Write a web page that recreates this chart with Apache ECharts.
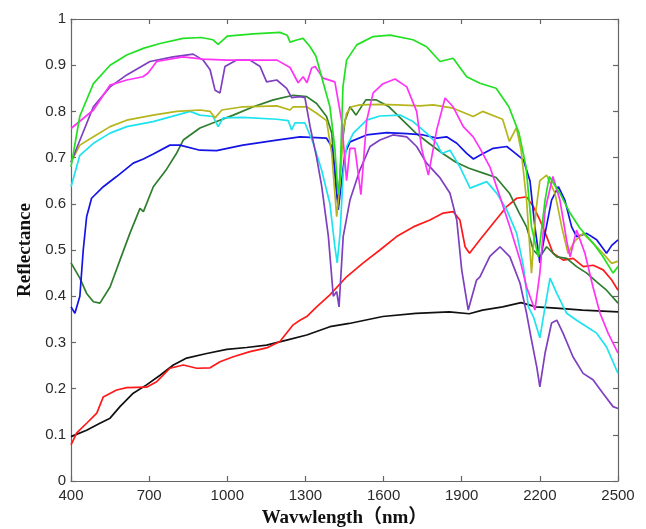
<!DOCTYPE html>
<html>
<head>
<meta charset="utf-8">
<script src="https://cdn.jsdelivr.net/npm/echarts@6/dist/echarts.min.js"></script>
<style>
  html, body { margin: 0; padding: 0; background: #fff; }
  #chart { width: 646px; height: 529px; }
</style>
</head>
<body>
<div id="chart"></div>
<script>
// Reflectance spectra, [wavelength nm, reflectance]
const green = [
  [400, 0.68], [434, 0.79], [486, 0.86], [550, 0.90], [614, 0.922], [680, 0.937], [742, 0.947],
  [830, 0.958], [900, 0.96], [945, 0.955], [965, 0.945], [1000, 0.963], [1100, 0.968], [1202, 0.971],
  [1230, 0.965], [1241, 0.95], [1270, 0.955], [1291, 0.958], [1318, 0.94], [1340, 0.92], [1362, 0.875],
  [1394, 0.81], [1413, 0.72], [1425, 0.62], [1433, 0.66], [1444, 0.853], [1458, 0.911], [1497, 0.944],
  [1560, 0.962], [1625, 0.965], [1713, 0.955], [1765, 0.94], [1817, 0.908], [1867, 0.915], [1919, 0.875],
  [1970, 0.861], [2032, 0.85], [2081, 0.81], [2120, 0.753], [2147, 0.68], [2168, 0.55], [2194, 0.485],
  [2220, 0.608], [2236, 0.659], [2277, 0.623], [2316, 0.58], [2354, 0.547], [2404, 0.515], [2442, 0.486],
  [2481, 0.45], [2500, 0.464]
];
const magenta = [
  [400, 0.763], [486, 0.803], [550, 0.857], [614, 0.868], [676, 0.875], [696, 0.883], [729, 0.908],
  [830, 0.918], [907, 0.913], [1000, 0.911], [1191, 0.911], [1241, 0.895], [1272, 0.862], [1291, 0.875],
  [1306, 0.862], [1324, 0.894], [1337, 0.897], [1368, 0.872], [1413, 0.864], [1439, 0.78], [1458, 0.65],
  [1471, 0.72], [1490, 0.72], [1513, 0.62], [1535, 0.78], [1560, 0.84], [1598, 0.86], [1644, 0.87],
  [1689, 0.853], [1727, 0.80], [1746, 0.72], [1772, 0.662], [1804, 0.76], [1836, 0.829], [1867, 0.81],
  [1906, 0.767], [1944, 0.745], [1970, 0.72], [2008, 0.68], [2047, 0.615], [2085, 0.55], [2124, 0.478],
  [2149, 0.42], [2181, 0.37], [2200, 0.45], [2220, 0.587], [2250, 0.659], [2277, 0.608], [2303, 0.52],
  [2316, 0.485], [2341, 0.543], [2373, 0.493], [2404, 0.42], [2431, 0.363], [2462, 0.32], [2500, 0.277]
];
const purple = [
  [400, 0.69], [486, 0.81], [550, 0.853], [614, 0.879], [703, 0.908], [792, 0.918], [869, 0.924],
  [907, 0.911], [934, 0.89], [953, 0.846], [972, 0.84], [991, 0.897], [1036, 0.911], [1087, 0.911],
  [1126, 0.897], [1151, 0.864], [1190, 0.868], [1228, 0.85], [1247, 0.83], [1279, 0.832], [1298, 0.83],
  [1318, 0.767], [1343, 0.70], [1362, 0.64], [1388, 0.53], [1407, 0.40], [1420, 0.41], [1429, 0.377],
  [1445, 0.529], [1471, 0.608], [1509, 0.673], [1548, 0.724], [1586, 0.738], [1636, 0.749], [1689, 0.745],
  [1727, 0.724], [1765, 0.688], [1817, 0.656], [1855, 0.623], [1881, 0.565], [1900, 0.457], [1925, 0.37],
  [1957, 0.435], [1970, 0.442], [2008, 0.486], [2047, 0.507], [2085, 0.485], [2124, 0.428], [2149, 0.363],
  [2168, 0.305], [2188, 0.247], [2200, 0.204], [2220, 0.277], [2245, 0.342], [2265, 0.348], [2289, 0.32],
  [2327, 0.269], [2366, 0.233], [2404, 0.219], [2442, 0.19], [2481, 0.161], [2500, 0.157]
];
const olive = [
  [400, 0.69], [434, 0.727], [486, 0.745], [550, 0.767], [614, 0.781], [715, 0.792], [806, 0.80],
  [895, 0.803], [934, 0.80], [953, 0.786], [979, 0.803], [1060, 0.81], [1190, 0.812], [1241, 0.803],
  [1253, 0.81], [1305, 0.81], [1343, 0.796], [1381, 0.78], [1401, 0.709], [1420, 0.572], [1433, 0.645],
  [1445, 0.76], [1458, 0.796], [1478, 0.81], [1509, 0.814], [1586, 0.815], [1650, 0.814], [1740, 0.812],
  [1790, 0.814], [1867, 0.807], [1944, 0.789], [1980, 0.80], [2057, 0.783], [2083, 0.735], [2110, 0.765],
  [2128, 0.716], [2149, 0.608], [2168, 0.45], [2185, 0.586], [2200, 0.65], [2226, 0.662], [2258, 0.623],
  [2284, 0.55], [2308, 0.493], [2335, 0.52], [2366, 0.536], [2404, 0.515], [2442, 0.493], [2476, 0.471],
  [2500, 0.476]
];
const cyan = [
  [400, 0.637], [434, 0.705], [486, 0.731], [550, 0.753], [614, 0.767], [715, 0.778], [806, 0.792],
  [857, 0.80], [895, 0.792], [945, 0.789], [965, 0.767], [984, 0.786], [1060, 0.787], [1190, 0.783],
  [1234, 0.78], [1247, 0.76], [1260, 0.775], [1298, 0.775], [1330, 0.731], [1362, 0.673], [1394, 0.60],
  [1413, 0.507], [1422, 0.472], [1433, 0.536], [1445, 0.666], [1458, 0.724], [1484, 0.753], [1535, 0.781],
  [1586, 0.79], [1663, 0.792], [1713, 0.778], [1765, 0.753], [1804, 0.731], [1823, 0.709], [1855, 0.716],
  [1893, 0.68], [1932, 0.634], [1996, 0.648], [2034, 0.623], [2073, 0.587], [2111, 0.536], [2137, 0.464],
  [2156, 0.377], [2175, 0.356], [2200, 0.31], [2220, 0.377], [2239, 0.439], [2265, 0.406], [2303, 0.363],
  [2341, 0.348], [2380, 0.334], [2418, 0.32], [2456, 0.29], [2500, 0.233]
];
const blue = [
  [400, 0.377], [415, 0.363], [434, 0.40], [447, 0.50], [460, 0.572], [479, 0.612], [524, 0.637],
  [575, 0.659], [639, 0.688], [678, 0.697], [716, 0.708], [780, 0.727], [818, 0.727], [895, 0.716],
  [959, 0.715], [1060, 0.727], [1190, 0.738], [1279, 0.745], [1381, 0.742], [1401, 0.724], [1413, 0.673],
  [1426, 0.587], [1439, 0.65], [1452, 0.709], [1471, 0.734], [1535, 0.749], [1612, 0.754], [1689, 0.752],
  [1753, 0.749], [1804, 0.742], [1842, 0.745], [1881, 0.731], [1919, 0.709], [1945, 0.697], [1970, 0.705],
  [2021, 0.72], [2073, 0.724], [2098, 0.713], [2137, 0.695], [2162, 0.65], [2181, 0.55], [2200, 0.472],
  [2220, 0.536], [2245, 0.608], [2271, 0.637], [2296, 0.608], [2322, 0.55], [2341, 0.529], [2380, 0.536],
  [2418, 0.522], [2456, 0.493], [2476, 0.51], [2500, 0.522]
];
const darkGreen = [
  [400, 0.472], [434, 0.439], [460, 0.406], [486, 0.388], [511, 0.385], [550, 0.42], [588, 0.478],
  [626, 0.536], [665, 0.59], [678, 0.583], [716, 0.637], [767, 0.675], [806, 0.71], [831, 0.738],
  [895, 0.764], [959, 0.778], [1023, 0.792], [1100, 0.81], [1177, 0.825], [1253, 0.835], [1305, 0.832],
  [1343, 0.817], [1381, 0.789], [1401, 0.753], [1417, 0.637], [1426, 0.60], [1439, 0.72], [1452, 0.78],
  [1471, 0.81], [1494, 0.792], [1532, 0.825], [1571, 0.825], [1621, 0.81], [1673, 0.781], [1724, 0.753],
  [1774, 0.731], [1827, 0.709], [1878, 0.69], [1928, 0.677], [1980, 0.667], [2032, 0.657], [2083, 0.623],
  [2121, 0.58], [2149, 0.55], [2175, 0.50], [2200, 0.485], [2226, 0.507], [2265, 0.485], [2303, 0.482],
  [2341, 0.464], [2380, 0.45], [2418, 0.431], [2456, 0.413], [2500, 0.385]
];
const red = [
  [400, 0.078], [422, 0.104], [460, 0.125], [499, 0.147], [524, 0.182], [575, 0.197], [614, 0.202],
  [690, 0.203], [729, 0.215], [780, 0.244], [831, 0.251], [883, 0.244], [934, 0.245], [972, 0.258],
  [1023, 0.269], [1087, 0.28], [1151, 0.288], [1202, 0.302], [1253, 0.338], [1279, 0.348], [1305, 0.356],
  [1343, 0.377], [1394, 0.403], [1458, 0.442], [1522, 0.472], [1586, 0.50], [1650, 0.529], [1714, 0.55],
  [1778, 0.565], [1829, 0.58], [1868, 0.583], [1893, 0.565], [1913, 0.507], [1930, 0.493], [1970, 0.522],
  [2021, 0.558], [2073, 0.594], [2111, 0.612], [2149, 0.615], [2175, 0.594], [2200, 0.565], [2226, 0.529],
  [2251, 0.493], [2290, 0.478], [2328, 0.482], [2367, 0.464], [2405, 0.467], [2443, 0.457], [2476, 0.435],
  [2500, 0.413]
];
const black = [
  [400, 0.096], [460, 0.11], [511, 0.125], [550, 0.136], [588, 0.161], [639, 0.19], [690, 0.208],
  [742, 0.229], [793, 0.251], [844, 0.266], [921, 0.276], [998, 0.285], [1074, 0.289], [1151, 0.294],
  [1228, 0.305], [1305, 0.316], [1394, 0.334], [1468, 0.341], [1597, 0.356], [1724, 0.363], [1852, 0.366],
  [1929, 0.362], [1980, 0.37], [2057, 0.377], [2128, 0.386], [2185, 0.377], [2262, 0.374], [2364, 0.37],
  [2500, 0.366]
];

const xTicks = { min: 400, max: 2500, interval: 300 };
const yTicks = { min: 0, max: 1, interval: 0.1 };

const seriesList = [
  { name: 'black', data: black, color: '#111111' },
  { name: 'red', data: red, color: '#ff1a1a' },
  { name: 'darkGreen', data: darkGreen, color: '#2f7d2f' },
  { name: 'blue', data: blue, color: '#1414e6' },
  { name: 'cyan', data: cyan, color: '#1ee3ee' },
  { name: 'olive', data: olive, color: '#b5b51c' },
  { name: 'purple', data: purple, color: '#7e3fc0' },
  { name: 'magenta', data: magenta, color: '#ff33f5' },
  { name: 'green', data: green, color: '#22e022' }
];

const axisLineStyle = { color: '#666', width: 1.2 };
const tickLabelFont = { fontFamily: 'Liberation Sans, Arial, sans-serif', fontSize: 15, color: '#2a2a2a' };
const nameFont = { fontFamily: 'Liberation Serif, "Noto Sans CJK SC", serif', fontWeight: 'bold', fontSize: 19, color: '#111' };

const chart = echarts.init(document.getElementById('chart'), null, { renderer: 'canvas' });

chart.setOption({
  animation: false,
  backgroundColor: '#fff',
  grid: { left: 71, right: 28, top: 19, bottom: 48, containLabel: false, outerBoundsMode: 'none' },
  xAxis: [
    {
      type: 'value', position: 'bottom', ...xTicks,
      name: 'Wavwlength（nm）', nameLocation: 'middle', nameGap: 28, nameTextStyle: nameFont,
      axisLine: { show: true, onZero: false, lineStyle: axisLineStyle },
      axisTick: { show: true, inside: true, length: 5, lineStyle: axisLineStyle },
      axisLabel: { ...tickLabelFont, margin: 7, formatter: v => String(v) },
      splitLine: { show: false }
    },
    {
      type: 'value', position: 'top', ...xTicks,
      axisLine: { show: true, onZero: false, lineStyle: axisLineStyle },
      axisTick: { show: true, inside: true, length: 5, lineStyle: axisLineStyle },
      axisLabel: { show: false },
      splitLine: { show: false }
    }
  ],
  yAxis: [
    {
      type: 'value', position: 'left', ...yTicks,
      name: 'Reflectance', nameLocation: 'middle', nameGap: 36, nameTextStyle: nameFont,
      axisLine: { show: true, onZero: false, lineStyle: axisLineStyle },
      axisTick: { show: true, inside: true, length: 5, lineStyle: axisLineStyle },
      axisLabel: { ...tickLabelFont, margin: 5 },
      splitLine: { show: false }
    },
    {
      type: 'value', position: 'right', ...yTicks,
      axisLine: { show: true, onZero: false, lineStyle: axisLineStyle },
      axisTick: { show: true, inside: true, length: 5, lineStyle: axisLineStyle },
      axisLabel: { show: false },
      splitLine: { show: false }
    }
  ],
  series: seriesList.map(s => ({
    name: s.name,
    type: 'line',
    xAxisIndex: 0,
    yAxisIndex: 0,
    data: s.data,
    showSymbol: false,
    symbol: 'none',
    lineStyle: { color: s.color, width: 1.7 },
    itemStyle: { color: s.color }
  }))
});
</script>
</body>
</html>
